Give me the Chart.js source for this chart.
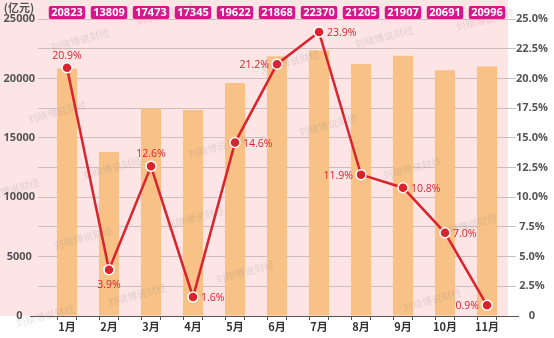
<!DOCTYPE html>
<html lang="zh-CN">
<head>
<meta charset="UTF-8">
<title>社会消费品零售总额</title>
<script src="https://cdn.jsdelivr.net/npm/chart.js@4.4.0/dist/chart.umd.min.js"></script>
<style>
  html, body { margin: 0; padding: 0; background: #fff; }
  #wrap { width: 554px; height: 338px; position: relative; }
</style>
</head>
<body>
<div id="wrap"><canvas id="chart"></canvas></div>
<script>
// 月度零售额（亿元）与同比增速（%）
const months = ['1月', '2月', '3月', '4月', '5月', '6月', '7月', '8月', '9月', '10月', '11月'];
const amounts = [20823, 13809, 17473, 17345, 19622, 21868, 22370, 21205, 21907, 20691, 20996];
const growth = [20.9, 3.9, 12.6, 1.6, 14.6, 21.2, 23.9, 11.9, 10.8, 7.0, 0.9];

// 增速标签放在点的哪一侧
const labelSide = ['top', 'bottom', 'top', 'right', 'right', 'left', 'right', 'left', 'right', 'right', 'left'];

const PINK_BG = '#fde5e5';
const BAR = '#f8c287';
const RED = '#da232d';
const MAGENTA = '#d8168b';
const GRID = '#cdbdbd';

Chart.defaults.font.family = "'Open Sans', 'Noto Sans CJK SC', sans-serif";

// 水印
const watermarks = [[80, 40], [165, 14], [384, 37], [485, 20], [57, 112], [112, 168], [83, 238], [10, 190],
  [137, 295], [217, 147], [195, 218], [245, 272], [328, 125], [290, 62], [412, 168], [468, 225], [432, 300], [45, 316]];

const decor = {
  id: 'decor',
  beforeDraw(chart) {
    const { ctx, chartArea } = chart;
    ctx.save();
    ctx.fillStyle = '#fff';
    ctx.fillRect(0, 0, chart.width, chart.height);
    ctx.fillStyle = PINK_BG;
    ctx.fillRect(0, 0, chartArea.right, chartArea.bottom);
    ctx.restore();
  },
  afterDraw(chart) {
    const { ctx, chartArea } = chart;
    const bars = chart.getDatasetMeta(1).data;
    const pts = chart.getDatasetMeta(0).data;
    ctx.save();

    // 底部轴线和刻度
    ctx.strokeStyle = '#555';
    ctx.lineWidth = 1;
    ctx.beginPath();
    ctx.moveTo(30, chartArea.bottom + 0.5);
    ctx.lineTo(chartArea.right + 11, chartArea.bottom + 0.5);
    bars.forEach(b => {
      const l = Math.round(b.x - b.width / 2) + 0.5;
      const r = Math.round(b.x + b.width / 2) - 0.5;
      ctx.moveTo(l, chartArea.bottom);
      ctx.lineTo(l, chartArea.bottom + 4);
      ctx.moveTo(r, chartArea.bottom);
      ctx.lineTo(r, chartArea.bottom + 4);
    });
    ctx.stroke();

    // 顶部数值框
    ctx.font = 'bold 11px "Open Sans", sans-serif';
    ctx.textAlign = 'center';
    ctx.textBaseline = 'middle';
    bars.forEach((b, i) => {
      const txt = String(amounts[i]);
      const w = ctx.measureText(txt).width + 5;
      ctx.fillStyle = MAGENTA;
      ctx.beginPath();
      ctx.roundRect(b.x - w / 2, 6, w, 13, 2);
      ctx.fill();
      ctx.fillStyle = '#fff';
      ctx.fillText(txt, b.x, 13);
    });

    // 增速标签
    ctx.font = '10.5px "Open Sans", sans-serif';
    ctx.fillStyle = RED;
    pts.forEach((p, i) => {
      const txt = growth[i].toFixed(1) + '%';
      const side = labelSide[i];
      if (side === 'top') {
        ctx.textAlign = 'center';
        ctx.fillText(txt, p.x, p.y - 12);
      } else if (side === 'bottom') {
        ctx.textAlign = 'center';
        ctx.fillText(txt, p.x, p.y + 15);
      } else if (side === 'right') {
        ctx.textAlign = 'left';
        ctx.fillText(txt, p.x + 8, p.y + 1);
      } else {
        ctx.textAlign = 'right';
        ctx.fillText(txt, p.x - 8, p.y + 1);
      }
    });

    // 左上单位
    ctx.font = 'bold 11px "Noto Sans CJK SC", sans-serif';
    ctx.fillStyle = '#555';
    ctx.textAlign = 'center';
    ctx.fillText('(亿元)', 19, 8);

    // 水印
    ctx.font = '10px "Noto Sans CJK SC", sans-serif';
    ctx.fillStyle = 'rgba(120, 120, 120, 0.2)';
    ctx.textAlign = 'center';
    watermarks.forEach(([x, y]) => {
      ctx.save();
      ctx.translate(x, y);
      ctx.rotate(-0.26);
      ctx.fillText('刘晓博说财经', 0, 0);
      ctx.restore();
    });
    ctx.restore();
  }
};

new Chart(document.getElementById('chart'), {
  type: 'bar',
  data: {
    labels: months,
    datasets: [
      {
        type: 'line',
        data: growth,
        yAxisID: 'y1',
        order: 0,
        borderColor: RED,
        borderWidth: 2.5,
        backgroundColor: RED,
        pointRadius: 5,
        pointBorderColor: '#fff',
        pointBorderWidth: 1.5,
        pointBackgroundColor: RED,
        tension: 0
      },
      {
        type: 'bar',
        data: amounts,
        yAxisID: 'y',
        order: 1,
        backgroundColor: BAR,
        barPercentage: 0.48,
        categoryPercentage: 1
      }
    ]
  },
  options: {
    responsive: true,
    maintainAspectRatio: false,
    animation: false,
    layout: { padding: { top: 19, left: 0, right: 0, bottom: 0 } },
    plugins: { legend: { display: false }, tooltip: { enabled: false } },
    scales: {
      x: {
        grid: { display: false, drawTicks: false },
        border: { display: false },
        ticks: { padding: 4, color: '#333', font: { size: 11, weight: 'bold', family: "'Noto Sans CJK SC', sans-serif" } },
        afterFit(s) { s.height = 22; }
      },
      y: {
        position: 'left',
        min: 0,
        max: 25000,
        border: { display: false },
        grid: { color: GRID, tickLength: 8 },
        ticks: {
          stepSize: 2500,
          padding: 3,
          crossAlign: 'center',
          color: '#555',
          font: { size: 11, weight: 'bold' },
          callback: v => (v % 5000 === 0 ? String(v) : '')
        },
        afterFit(s) { s.width = 46; }
      },
      y1: {
        position: 'right',
        min: 0,
        max: 25,
        border: { display: false },
        grid: { drawOnChartArea: false, color: GRID, tickLength: 8 },
        ticks: {
          stepSize: 2.5,
          padding: 0,
          crossAlign: 'center',
          color: '#555',
          font: { size: 11, weight: 'bold' },
          callback: v => (v === 0 ? '0' : v.toFixed(1) + '%')
        },
        afterFit(s) { s.width = 46; }
      }
    }
  },
  plugins: [decor]
});
</script>
</body>
</html>
